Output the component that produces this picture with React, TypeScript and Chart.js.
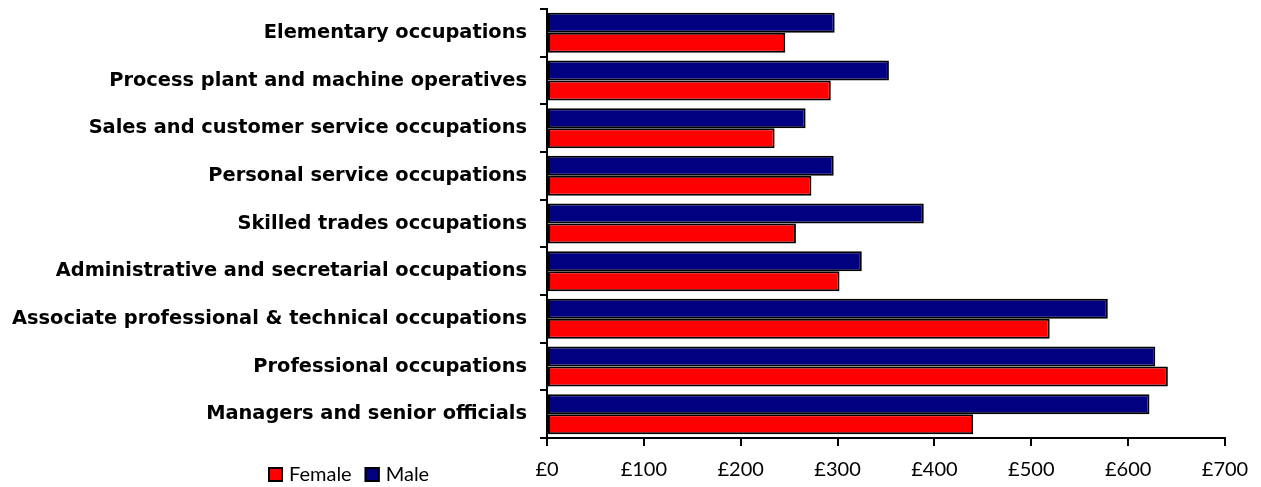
import { useEffect, useRef } from "react";
import { Chart, registerables } from "chart.js";

Chart.register(...registerables);

const categories = [
  "Elementary occupations",
  "Process plant and machine operatives",
  "Sales and customer service occupations",
  "Personal service occupations",
  "Skilled trades occupations",
  "Administrative and secretarial occupations",
  "Associate professional & technical occupations",
  "Professional occupations",
  "Managers and senior officials",
];
const maleValues = [297, 353, 267, 296, 389, 325, 579, 628, 622];
const femaleValues = [246, 293, 235, 273, 257, 302, 519, 641, 440];
const xTickValues = [0, 100, 200, 300, 400, 500, 600, 700];
const xTickLabels = ["£0", "£100", "£200", "£300", "£400", "£500", "£600", "£700"];
const legendNames = ["Female", "Male"];

const FEMALE_COLOR = "#FF0000";
const MALE_COLOR = "#000080";

const legendPlugin = {
  id: "customLegend",
  afterDraw(chart: any) {
    const ctx = chart.ctx;
    const colors = [FEMALE_COLOR, MALE_COLOR];
    let x = 268;
    const y = 467;
    ctx.save();
    ctx.font = "20px Lato";
    ctx.textBaseline = "middle";
    ctx.textAlign = "left";
    legendNames.forEach((name, i) => {
      ctx.fillStyle = colors[i];
      ctx.fillRect(x, y, 15, 15);
      ctx.strokeStyle = "#000";
      ctx.lineWidth = 2;
      ctx.strokeRect(x + 1, y + 1, 13, 13);
      ctx.fillStyle = "#000";
      ctx.fillText(name, x + 21, y + 8);
      x += 21 + ctx.measureText(name).width + 13;
    });
    ctx.restore();
  },
};

export default function App() {
  const canvasRef = useRef<HTMLCanvasElement | null>(null);

  useEffect(() => {
    document.body.style.margin = "0";
    const canvas = canvasRef.current;
    if (!canvas) return;
    const chart = new Chart(canvas, {
      type: "bar",
      data: {
        labels: categories,
        datasets: [
          {
            label: "Male",
            data: maleValues,
            backgroundColor: MALE_COLOR,
            borderColor: "#000",
            borderWidth: 2,
            borderSkipped: false,
            categoryPercentage: 0.84,
            barPercentage: 1,
          },
          {
            label: "Female",
            data: femaleValues,
            backgroundColor: FEMALE_COLOR,
            borderColor: "#000",
            borderWidth: 2,
            borderSkipped: false,
            categoryPercentage: 0.84,
            barPercentage: 1,
          },
        ],
      },
      options: {
        indexAxis: "y",
        animation: false,
        responsive: false,
        maintainAspectRatio: false,
        layout: { padding: { top: 9, right: 36, bottom: 0, left: 0 } },
        plugins: {
          legend: { display: false },
          tooltip: { enabled: false },
        },
        scales: {
          x: {
            type: "linear",
            min: 0,
            max: 700,
            afterBuildTicks: (scale: any) => {
              scale.ticks = xTickValues.map((v) => ({ value: v }));
            },
            afterFit: (scale: any) => {
              scale.height = 49;
              scale.paddingLeft = 0;
              scale.paddingRight = 0;
            },
            border: { display: true, color: "#000", width: 2 },
            grid: {
              drawOnChartArea: false,
              drawTicks: true,
              tickLength: 8,
              color: "#000",
              lineWidth: 2,
            },
            ticks: {
              color: "#000",
              font: { family: "Lato", size: 20 },
              padding: 12,
              maxRotation: 0,
              callback: (v: any) => {
                const idx = xTickValues.indexOf(Number(v));
                return idx >= 0 ? xTickLabels[idx] : "";
              },
            },
          },
          y: {
            type: "category",
            afterFit: (scale: any) => {
              scale.width = 547;
              scale.paddingTop = 0;
              scale.paddingBottom = 0;
            },
            border: { display: true, color: "#000", width: 2 },
            grid: {
              offset: true,
              drawOnChartArea: false,
              drawTicks: true,
              tickLength: 7,
              color: "#000",
              lineWidth: 2,
            },
            ticks: {
              color: "#000",
              font: { family: "'DejaVu Sans'", size: 19.4, weight: "bold" },
              padding: 13,
              autoSkip: false,
            },
          },
        },
      },
      plugins: [legendPlugin],
    });
    return () => chart.destroy();
  }, []);

  return (
    <div style={{ width: 1261, height: 487, position: "relative" }}>
      <canvas ref={canvasRef} width={1261} height={487} style={{ display: "block" }} />
    </div>
  );
}
